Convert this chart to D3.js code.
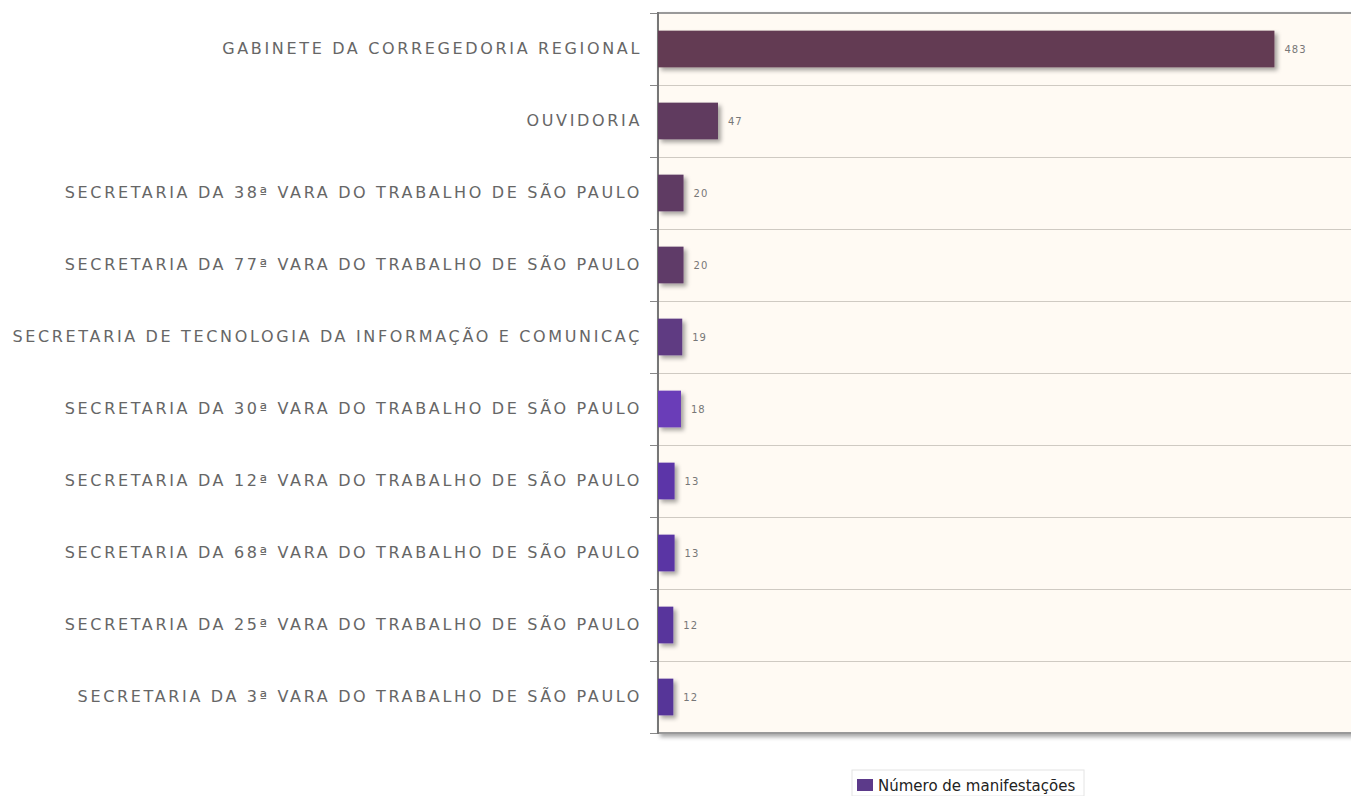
<!DOCTYPE html>
<html>
<head>
<meta charset="utf-8">
<script src="https://cdn.jsdelivr.net/npm/d3@7"></script>
<style>
  body { margin: 0; background: #ffffff; overflow: hidden; }
  svg { display: block; }
</style>
</head>
<body>
<svg id="chart" width="1351" height="796"></svg>
<script>
// data
var categories = [
  "GABINETE DA CORREGEDORIA REGIONAL",
  "OUVIDORIA",
  "SECRETARIA DA 38ª VARA DO TRABALHO DE SÃO PAULO",
  "SECRETARIA DA 77ª VARA DO TRABALHO DE SÃO PAULO",
  "SECRETARIA DE TECNOLOGIA DA INFORMAÇÃO E COMUNICAÇ",
  "SECRETARIA DA 30ª VARA DO TRABALHO DE SÃO PAULO",
  "SECRETARIA DA 12ª VARA DO TRABALHO DE SÃO PAULO",
  "SECRETARIA DA 68ª VARA DO TRABALHO DE SÃO PAULO",
  "SECRETARIA DA 25ª VARA DO TRABALHO DE SÃO PAULO",
  "SECRETARIA DA 3ª VARA DO TRABALHO DE SÃO PAULO"
];
var values = [483, 47, 20, 20, 19, 18, 13, 13, 12, 12];
var seriesName = "Número de manifestações";
var barColors = ["#633a52", "#603a5e", "#5e3a64", "#5e3a68", "#5e3a82",
                 "#6a3cb8", "#5b34a8", "#5a34a4", "#58349c", "#573498"];
var xMax = 543;

(function() {
  var svg = d3.select("#chart");
  var plotL = 658, plotT = 13, plotR = 1356, plotB = 733;

  // scales
  var x = d3.scaleLinear().domain([0, xMax]).range([plotL, plotL + 693]);
  var y = d3.scaleBand().domain(categories).range([plotT, plotB]).padding(0);

  var defs = svg.append("defs");
  var shadow = defs.append("filter").attr("id", "shadow")
      .attr("x", "-20%").attr("y", "-20%").attr("width", "160%").attr("height", "160%");
  shadow.append("feDropShadow")
      .attr("dx", 3).attr("dy", 3).attr("stdDeviation", 2.2)
      .attr("flood-color", "#000").attr("flood-opacity", 0.35);

  // plot background + border shadow
  svg.append("rect")
      .attr("x", plotL).attr("y", plotT)
      .attr("width", plotR - plotL).attr("height", plotB - plotT)
      .attr("fill", "#fffaf3")
      .attr("stroke", "#999").attr("stroke-width", 2)
      .attr("filter", "url(#shadow)");

  // grid lines at band boundaries
  var bounds = categories.map(function(c){ return y(c); }).concat([plotB]);
  svg.append("g").selectAll("line.grid")
      .data(bounds.slice(1, -1))
    .enter().append("line")
      .attr("class", "grid")
      .attr("x1", plotL).attr("x2", plotR)
      .attr("y1", function(d){ return d + 0.5; })
      .attr("y2", function(d){ return d + 0.5; })
      .attr("stroke", "#cfcac2").attr("stroke-width", 1);

  // tick marks left of axis
  svg.append("g").selectAll("line.tick")
      .data(bounds)
    .enter().append("line")
      .attr("x1", plotL - 8).attr("x2", plotL)
      .attr("y1", function(d){ return d + 0.5; })
      .attr("y2", function(d){ return d + 0.5; })
      .attr("stroke", "#888").attr("stroke-width", 1);

  // left axis line
  svg.append("line")
      .attr("x1", plotL).attr("x2", plotL)
      .attr("y1", plotT - 1).attr("y2", plotB + 1)
      .attr("stroke", "#777").attr("stroke-width", 2);

  // category labels (wide, spaced like the original Verdana)
  var yAxis = d3.axisLeft(y).tickSize(0).tickPadding(16);
  var ga = svg.append("g").attr("transform", "translate(" + plotL + ",0)").call(yAxis);
  ga.select(".domain").remove();
  ga.selectAll("text")
      .attr("font-family", "'DejaVu Sans', Verdana, sans-serif")
      .attr("font-size", "16px")
      .attr("letter-spacing", "2.65px")
      .attr("fill", "#666");

  // bars
  var barH = y.bandwidth() * 0.51;
  svg.append("g").selectAll("rect.bar")
      .data(values)
    .enter().append("rect")
      .attr("class", "bar")
      .attr("x", x(0))
      .attr("y", function(d, i){ return y(categories[i]) + (y.bandwidth() - barH) / 2; })
      .attr("width", function(d){ return x(d) - x(0); })
      .attr("height", barH)
      .attr("fill", function(d, i){ return barColors[i]; })
      .attr("filter", "url(#shadow)");

  // value labels
  svg.append("g").selectAll("text.val")
      .data(values)
    .enter().append("text")
      .attr("x", function(d){ return x(d) + 10; })
      .attr("y", function(d, i){ return y(categories[i]) + y.bandwidth() / 2; })
      .attr("dy", "0.35em")
      .attr("font-family", "'DejaVu Sans', Verdana, sans-serif")
      .attr("font-size", "10px")
      .attr("letter-spacing", "1px")
      .attr("fill", "#777")
      .text(function(d){ return d; });

  // legend
  var lg = svg.append("g").attr("transform", "translate(852,770)");
  lg.append("rect")
      .attr("x", 0).attr("y", 0).attr("width", 232).attr("height", 26)
      .attr("fill", "#fff").attr("stroke", "#e4e4e4");
  lg.append("rect")
      .attr("x", 5).attr("y", 9).attr("width", 16).attr("height", 12)
      .attr("fill", "#5c3a8a");
  lg.append("text")
      .attr("x", 26).attr("y", 21)
      .attr("font-family", "'DejaVu Sans', Verdana, sans-serif")
      .attr("font-size", "15px")
      .attr("fill", "#222")
      .text(seriesName);
})();
</script>
</body>
</html>
